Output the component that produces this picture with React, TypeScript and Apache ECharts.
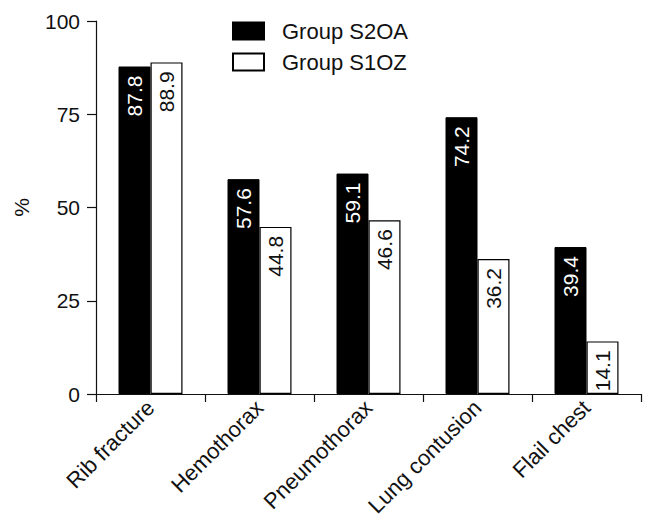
import React, { useEffect, useRef } from "react";
import * as echarts from "echarts";

const categories = ["Rib fracture", "Hemothorax", "Pneumothorax", "Lung contusion", "Flail chest"];
const groupS2OA = [87.8, 57.6, 59.1, 74.2, 39.4];
const groupS1OZ = [88.9, 44.8, 46.6, 36.2, 14.1];
const seriesNames = ["Group S2OA", "Group S1OZ"];
const yTicks = { min: 0, max: 100, interval: 25 };

const FONT = "'Liberation Sans', Arial, sans-serif";
const INK = "#111";

export default function App() {
  const ref = useRef<HTMLDivElement>(null);
  useEffect(() => {
    document.body.style.margin = "0";
    if (!ref.current) return;
    const chart = echarts.init(ref.current, undefined, { renderer: "svg" });
    const labelBase = {
      show: true,
      position: "insideTop",
      rotate: 90,
      align: "right",
      verticalAlign: "middle",
      distance: 9,
      fontSize: 21,
      fontFamily: FONT,
      formatter: (p: any) => Number(p.value).toFixed(1),
    };
    chart.setOption({
      animation: false,
      backgroundColor: "#fff",
      textStyle: { fontFamily: FONT, color: INK },
      grid: { left: 96, right: 13, top: 21, bottom: 135, containLabel: false },
      legend: {
        orient: "vertical",
        left: 227,
        top: 15,
        itemWidth: 31,
        itemHeight: 17,
        itemGap: 9,
        icon: "rect",
        data: seriesNames,
        textStyle: { fontSize: 22, color: INK, fontFamily: FONT, lineHeight: 17, padding: [0, 0, 0, 13] },
      },
      xAxis: {
        type: "category",
        data: categories,
        boundaryGap: true,
        axisLine: { show: true, lineStyle: { color: INK, width: 1.2 } },
        axisTick: { show: true, length: 8, alignWithLabel: false, lineStyle: { color: INK, width: 1.2 } },
        axisLabel: { rotate: 45, fontSize: 22, color: INK, fontFamily: FONT, margin: 10, interval: 0 },
        splitLine: { show: false },
      },
      yAxis: {
        type: "value",
        min: yTicks.min,
        max: yTicks.max,
        interval: yTicks.interval,
        name: "%",
        nameLocation: "middle",
        nameRotate: 90,
        nameGap: 64,
        nameTextStyle: { fontSize: 21, color: INK, fontFamily: FONT },
        axisLine: { show: true, lineStyle: { color: INK, width: 1.2 } },
        axisTick: { show: true, length: 9, lineStyle: { color: INK, width: 1.2 } },
        axisLabel: { fontSize: 21, color: INK, fontFamily: FONT, margin: 16 },
        splitLine: { show: false },
      },
      series: [
        {
          name: seriesNames[0],
          type: "bar",
          data: groupS2OA,
          barWidth: 32,
          barGap: "0%",
          itemStyle: { color: "#000", borderColor: "#000", borderWidth: 1 },
          label: { ...labelBase, color: "#fff" },
        },
        {
          name: seriesNames[1],
          type: "bar",
          data: groupS1OZ,
          barWidth: 32,
          barGap: "0%",
          itemStyle: { color: "#fff", borderColor: "#000", borderWidth: 1.2 },
          label: { ...labelBase, color: INK },
        },
      ],
    });
    return () => chart.dispose();
  }, []);
  return <div ref={ref} style={{ width: 654, height: 529 }} />;
}
